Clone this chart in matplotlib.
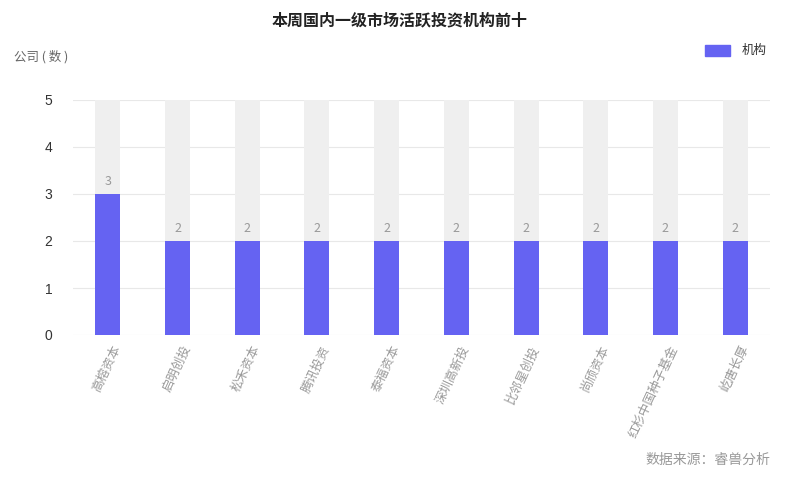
import matplotlib
matplotlib.use("Agg")
import matplotlib.pyplot as plt
import matplotlib.transforms as mtransforms
import numpy as np

plt.rcParams['font.family'] = ['Noto Sans CJK SC', 'DejaVu Sans']

categories = ["高榕资本", "启明创投", "松禾资本", "腾讯投资", "泰福资本",
              "深圳高新投", "比邻星创投", "尚颀资本", "红杉中国种子基金", "屹唐长厚"]
values = [3, 2, 2, 2, 2, 2, 2, 2, 2, 2]
y_max = 5
y_ticks = [0, 1, 2, 3, 4, 5]

W, H = 800, 480
fig = plt.figure(figsize=(8, 4.8), dpi=100)
fig.patch.set_facecolor('white')

left, right, top, bottom = 73, 770, 100, 335
ax = fig.add_axes([left / W, 1 - bottom / H, (right - left) / W, (bottom - top) / H])
ax.set_facecolor('none')

x = np.arange(len(categories))
bw = 0.36
ax.bar(x, [y_max] * len(x), width=bw, color='#efefef', zorder=1)
ax.bar(x, values, width=bw, color='#6563F2', zorder=2, label='机构')
for xi, v in zip(x, values):
    ax.text(xi, v + 0.12, str(v), ha='center', va='bottom', fontsize=9, color='#999999', zorder=3)

ax.set_xlim(-0.5, len(x) - 0.5)
ax.set_ylim(0, y_max)
ax.set_yticks(y_ticks)
ax.set_yticklabels([str(t) for t in y_ticks], fontsize=10, color='#333333',
                   family=['Liberation Sans', 'DejaVu Sans'])
ax.grid(axis='y', color='#e8e8e8', linewidth=0.8, zorder=0)
ax.set_axisbelow(True)
for s in ax.spines.values():
    s.set_visible(False)
ax.tick_params(axis='y', length=0, pad=15)
ax.tick_params(axis='x', length=0, pad=8)
ax.set_xticks(x)
ax.set_xticklabels(categories, rotation=65, ha='right', va='center', rotation_mode='anchor',
                   fontsize=9, color='#999999')
offset = mtransforms.ScaledTranslation(7 / 72, 0, fig.dpi_scale_trans)
for lbl in ax.get_xticklabels():
    lbl.set_transform(lbl.get_transform() + offset)

fig.text(400 / W, 1 - 20 / H, "本周国内一级市场活跃投资机构前十", ha='center', va='center',
         fontsize=11.5, fontweight='bold', color='#222222')
fig.text(14 / W, 1 - 57 / H, "公司 ( 数 )", ha='left', va='center', fontsize=9, color='#666666')

# legend
fig.patches.append(plt.Rectangle((705 / W, 1 - 56 / H), 25 / W, 11 / H, color='#6563F2',
                                 transform=fig.transFigure, figure=fig))
fig.text(742 / W, 1 - 50 / H, "机构", ha='left', va='center', fontsize=9, color='#333333')

fig.text(770 / W, 1 - 460 / H, "数据来源：睿兽分析", ha='right', va='center', fontsize=10, color='#999999')

fig.savefig("out.png", dpi=100)
